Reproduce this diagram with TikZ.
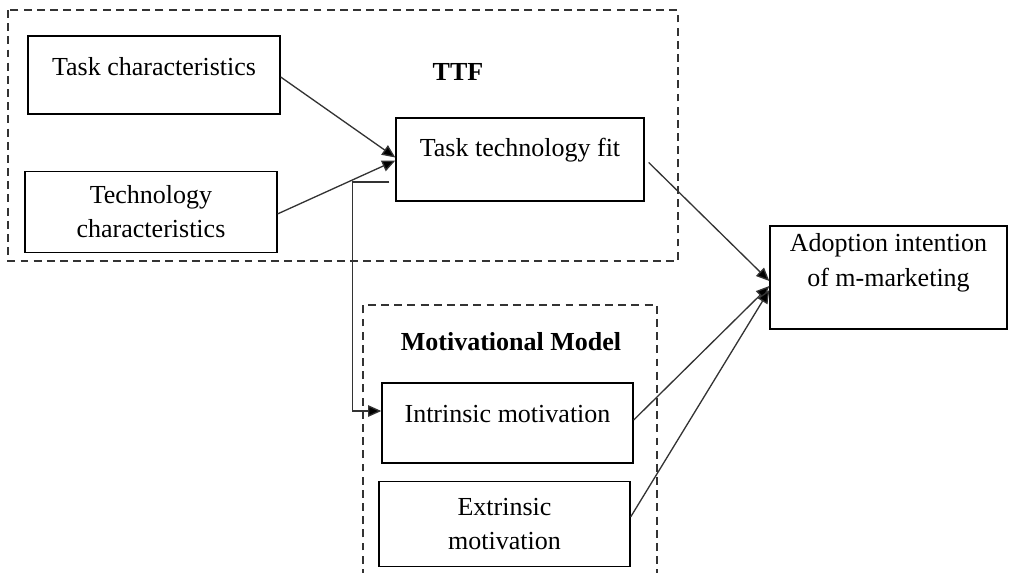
\documentclass[tikz,border=0pt]{standalone}
\usepackage{fontspec}
\setmainfont{Liberation Serif}
\usepackage{tikz}
\usetikzlibrary{arrows.meta, positioning, calc}
\definecolor{linegray}{rgb}{0.2, 0.2, 0.2}

\begin{document}
\begin{tikzpicture}[
		x=0.02cm, y=-0.02cm,
		block/.style={draw=black, line width=0.8pt, inner sep=0pt, align=center, font=\fontsize{14.8}{19.4}\selectfont},
		oneline/.style={text height=10pt, text depth=#1},
		groupframe/.style={draw=linegray, line width=0.75pt, dash pattern=on 4.5pt off 3pt},
		heading/.style={font=\fontsize{14.8}{19.4}\selectfont\bfseries, inner sep=0pt},
		arrowstyle/.style={-{Triangle[length=7.5pt, width=6.5pt, fill=black]}, line width=0.75pt, linegray}
	]
	\useasboundingbox (0,0) rectangle (1013,572);
	% TTF part
	\draw[groupframe] (8,10) rectangle (678,261);
	\node[heading] (ttflabel) at (458,72) {TTF};
	\node[block, oneline=10pt, minimum width=5.04cm, minimum height=1.56cm] (taskc) at (154,75) {Task characteristics};
	\node[block, minimum width=5.04cm, minimum height=1.62cm, below=1.12cm of taskc, xshift=-0.06cm] (techc) {Technology\\characteristics};
	\node[block, oneline=13pt, minimum width=4.96cm, minimum height=1.66cm] (ttfit) at (520,159.5) {Task technology fit};
	% motivational part
	\draw[groupframe] (363,590) |- (657,305) -- (657,590);
	\node[heading] (mmlabel) at (511,342) {Motivational Model};
	\node[block, oneline=11pt, minimum width=5.02cm, minimum height=1.6cm] (intrm) at (507.5,423) {Intrinsic motivation};
	\node[block, minimum width=5.02cm, minimum height=1.7cm, below=0.34cm of intrm, xshift=-0.06cm] (extrm) {Extrinsic\\motivation};
	% outcome
	\node[block, text depth=20pt, minimum width=4.74cm, minimum height=2.06cm] (adopt) at (888.5,277.5) {Adoption intention\\of m-marketing};
	% links
	\draw[arrowstyle] ($(taskc.east)+(0,2)$) -- ($(ttfit.west)+(0,-2)$);
	\draw[arrowstyle] ($(techc.east)+(0,2)$) -- ($(ttfit.west)+(0,1)$);
	\coordinate (tap) at ($(ttfit.west)+(-6,22.5)$);
	\draw[arrowstyle] (tap) -- ++(-37,0) |- ($(intrm.west)+(0,-12)$);
	\draw[arrowstyle] ($(ttfit.east)+(4,3)$) -- ($(adopt.west)+(0,3.5)$);
	\draw[arrowstyle] ($(intrm.east)+(0,-3)$) -- ($(adopt.west)+(0,8.5)$);
	\draw[arrowstyle] ($(extrm.east)+(0,-7)$) -- ($(adopt.west)+(0,12.5)$);
\end{tikzpicture}
\end{document}
